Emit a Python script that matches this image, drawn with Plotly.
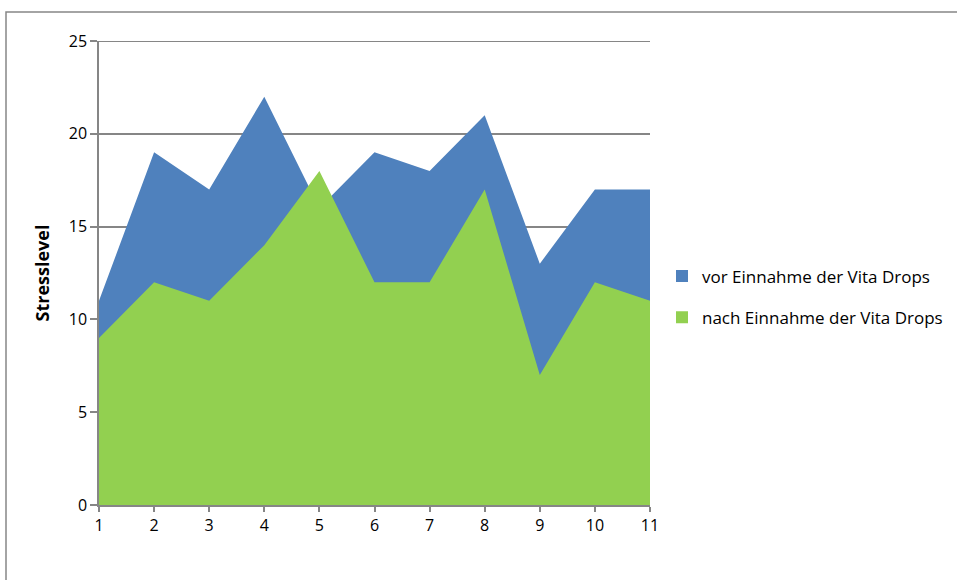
import plotly.graph_objects as go

x_vals = [1, 2, 3, 4, 5, 6, 7, 8, 9, 10, 11]
vor = [11, 19, 17, 22, 16, 19, 18, 21, 13, 17, 17]
nach = [9, 12, 11, 14, 18, 12, 12, 17, 7, 12, 11]
series_names = ["vor Einnahme der Vita Drops", "nach Einnahme der Vita Drops"]
colors = ["#4F81BD", "#92D050"]
y_ticks = [0, 5, 10, 15, 20, 25]

FONT = "Open Sans"
fig = go.Figure()
for vals, name, col in zip([vor, nach], series_names, colors):
    fig.add_trace(go.Scatter(x=x_vals, y=vals, name=name, mode="none",
                             fill="tozeroy", fillcolor=col, showlegend=False))
for name, col in zip(series_names, colors):
    fig.add_trace(go.Scatter(x=[None], y=[None], name=name, mode="markers",
                             marker=dict(symbol="square", size=12, color=col),
                             legendgroup=name, showlegend=True))

L, R, T, B = 99, 650, 41, 505
W, H = 957, 580
MR = 0
PW = W - L - MR
def px(p):
    return (p - L) / PW
def py(p):
    return (B - p) / (B - T)

fig.update_layout(
    width=W, height=H,
    margin=dict(l=L, r=MR, t=T, b=H - B, autoexpand=False),
    paper_bgcolor="white", plot_bgcolor="white",
    font=dict(family=FONT, size=16, color="#000000"),
    showlegend=True,
    legend=dict(x=px(662), y=py(297), xanchor="left", yanchor="middle",
                font=dict(family=FONT, size=17, color="#000"),
                tracegroupgap=16, itemwidth=30,
                bgcolor="rgba(0,0,0,0)"),
    xaxis=dict(domain=[0, px(R)], range=[1, 11], tickmode="array", tickvals=x_vals,
               showgrid=False, zeroline=False, showline=True,
               linecolor="#868686", linewidth=1.5, ticks="outside",
               ticklen=5, tickcolor="#868686", tickwidth=1.5,
               tickfont=dict(family=FONT, size=16)),
    yaxis=dict(range=[0, 25], tickmode="array", tickvals=y_ticks,
               showgrid=True, gridcolor="#868686", gridwidth=2,
               zeroline=False, showline=True, linecolor="#868686",
               linewidth=1.5, ticks="outside", ticklen=7,
               tickcolor="#868686", tickwidth=1.5,
               tickfont=dict(family=FONT, size=16),
               title=dict(text="<b>Stresslevel</b>",
                          font=dict(family=FONT, size=18), standoff=14)),
    shapes=[
        dict(type="rect", xref="paper", yref="paper",
             x0=px(6), x1=px(1000), y0=py(620), y1=py(12),
             line=dict(color="#868686", width=1.5), layer="below"),
        dict(type="line", xref="x", yref="y", x0=x_vals[0], x1=x_vals[-1],
             y0=y_ticks[-1], y1=y_ticks[-1],
             line=dict(color="#868686", width=2), layer="below"),
    ],
)

fig.write_html("out.html")
